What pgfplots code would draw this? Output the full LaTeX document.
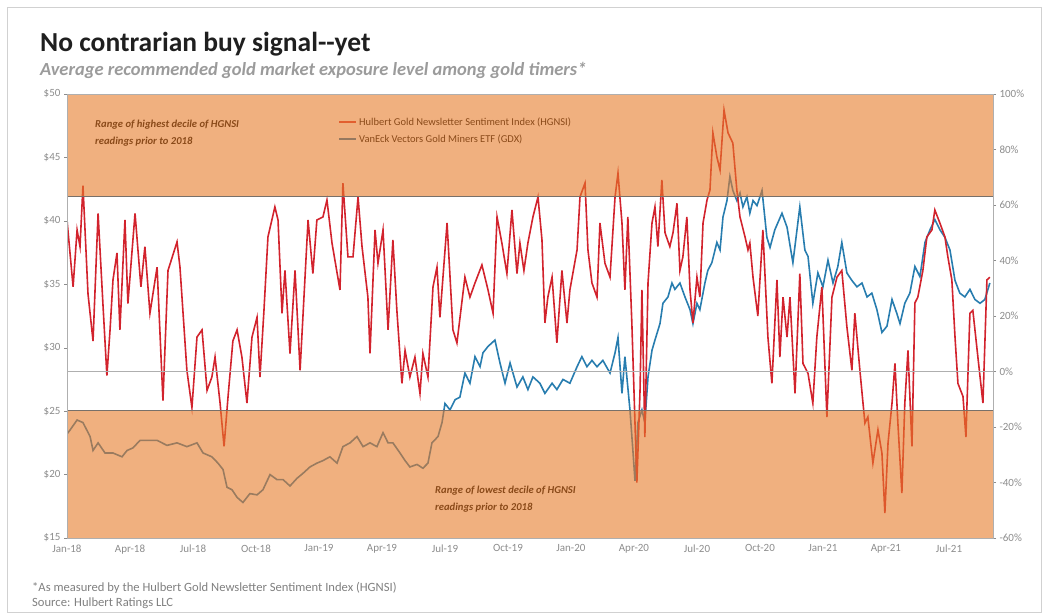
\documentclass[border=0pt]{standalone}
\usepackage{pgfplots}
\pgfplotsset{compat=1.18}
\usepackage{fontspec}
\setmainfont{Carlito}
\definecolor{hred}{RGB}{210,35,45}
\definecolor{gblue}{RGB}{40,125,175}
\definecolor{band}{RGB}{230,123,42}
\definecolor{annot}{RGB}{138,74,25}
\definecolor{edge}{RGB}{120,112,105}
\definecolor{zeroline}{RGB}{175,175,175}
\definecolor{tickc}{RGB}{140,140,140}
\definecolor{legred}{RGB}{226,95,47}
\definecolor{legbrown}{RGB}{150,120,95}
\definecolor{subt}{RGB}{155,155,155}

\pgfplotstableread{
m v
0.00 54.6
0.29 30.5
0.48 51
0.62 45
0.76 67
1.00 28
1.24 11
1.48 57
1.71 24.5
1.90 -1.5
2.05 15
2.19 33
2.38 42.7
2.52 15
2.76 54.6
2.90 24.5
3.24 57
3.52 30.5
3.71 45
3.95 21
4.29 37.6
4.57 -10.5
4.81 36.4
5.24 46.7
5.38 37.6
5.71 0.4
5.95 -13
6.19 12.4
6.43 15
6.67 -6.8
6.90 -2
7.05 5.2
7.29 -11.4
7.48 -27
7.67 -9
7.90 11
8.10 15
8.33 5.2
8.57 -11.4
8.81 12.4
9.05 19.5
9.19 -2
9.38 22
9.57 48.5
9.90 59.3
10.05 54.6
10.24 21
10.38 36.4
10.62 6.5
10.86 36.4
11.10 0.4
11.48 54.6
11.71 35.3
11.90 54.6
12.19 55.7
12.38 61.8
12.62 46.3
13.00 29.4
13.14 67.9
13.38 41.3
13.62 41.3
13.86 62.9
14.05 45
14.33 26.8
14.43 6.5
14.67 51
14.81 39
15.05 51
15.29 15
15.52 47.4
15.71 22
15.95 -4.3
16.10 7.6
16.33 -2
16.57 5.2
16.81 -7.9
16.95 6.5
17.19 -2
17.43 30.5
17.62 37.6
17.76 19.5
18.10 53.5
18.38 15
18.57 10.3
18.95 34
19.19 26.8
19.43 31.9
19.76 38.4
20.05 29.4
20.29 21
20.48 55.7
20.71 46.3
20.95 35.3
21.19 58.2
21.43 35.3
21.57 46.3
21.76 36.4
21.95 46.3
22.19 55.7
22.43 62.9
22.62 47.4
22.76 17.5
22.90 26.8
23.10 34
23.33 10.3
23.57 36.4
23.81 17.5
23.95 29.4
24.29 43.8
24.43 62.9
24.67 67.9
24.81 43.8
25.00 31.9
25.24 26.8
25.38 53.5
25.62 39
25.86 34
26.10 62.9
26.24 71.5
26.43 53.5
26.57 29.4
26.71 55.7
26.90 17.5
27.05 -18.6
27.14 -40
27.29 -6.8
27.38 29.4
27.52 -23.6
27.67 31.9
27.86 53.5
28.00 59.3
28.14 45
28.33 69
28.48 50
28.71 45
28.86 50
29.05 60.6
29.19 36.4
29.33 41.3
29.52 55.7
29.67 29.4
29.81 17.5
30.00 34
30.14 26.8
30.29 53.5
30.48 61.8
30.62 65.4
30.76 86
30.95 77.3
31.10 72.6
31.29 94.2
31.48 86
31.71 82.3
31.90 65.4
32.05 55.7
32.29 48.5
32.43 43.8
32.52 46.3
32.67 34
32.90 20
33.14 51
33.38 12.4
33.57 -4.3
33.81 33
33.95 5.2
34.10 26.8
34.29 12.4
34.43 26.8
34.67 -7.9
34.90 35.3
35.05 2.9
35.29 -0.7
35.52 -11.4
35.71 12.4
35.95 30.5
36.19 -16.4
36.43 26.8
36.67 34
36.90 36.4
37.14 16.2
37.38 0.4
37.52 21
37.76 0.4
38.00 -18.6
38.14 -16.4
38.38 -33
38.62 -21
38.81 -29.4
38.95 -51
39.10 -25.8
39.29 -11.4
39.43 2.9
39.57 -18.6
39.76 -43.8
39.90 -11.4
40.05 7.6
40.24 -27
40.38 24.7
40.52 26.8
40.76 36.4
40.95 48.5
41.19 51
41.33 58.2
41.57 53.5
41.81 48.5
41.95 41.3
42.14 33
42.29 12.4
42.43 -4.3
42.67 -9
42.81 -23.6
43.00 21
43.14 22
43.38 5.2
43.62 -11.4
43.81 33
43.95 34
}\hgnsi

\pgfplotstableread{
m v
0.00 23.2
0.14 23.5
0.48 24.3
0.76 24.1
1.10 23.0
1.24 21.9
1.48 22.5
1.81 21.7
2.19 21.7
2.62 21.4
2.86 21.9
3.14 22.1
3.48 22.7
3.81 22.7
4.29 22.7
4.76 22.3
5.24 22.5
5.71 22.2
6.19 22.5
6.48 21.7
6.90 21.4
7.19 20.9
7.43 20.4
7.62 19.0
7.86 18.8
8.10 18.2
8.38 17.8
8.71 18.5
9.05 18.4
9.33 18.8
9.67 20.0
10.00 19.6
10.29 19.6
10.62 19.1
10.95 19.7
11.24 20.1
11.57 20.6
11.90 20.9
12.19 21.1
12.52 21.4
12.86 20.9
13.14 22.2
13.48 22.5
13.81 23.0
14.10 22.2
14.43 22.5
14.76 22.2
15.05 23.3
15.29 22.5
15.52 22.5
15.86 21.7
16.10 21.1
16.33 20.6
16.67 20.8
16.95 20.5
17.19 20.9
17.38 22.5
17.67 23.0
17.86 24.1
18.00 25.6
18.24 25.1
18.48 25.9
18.71 26.1
18.95 28.0
19.19 27.2
19.43 29.3
19.67 28.5
19.81 29.6
20.05 30.1
20.38 30.6
20.62 28.8
20.86 27.2
21.10 28.8
21.43 26.9
21.71 27.7
21.95 26.7
22.19 27.7
22.52 27.2
22.76 26.4
23.10 27.2
23.33 26.7
23.62 27.5
23.95 27.2
24.29 28.5
24.52 29.3
24.76 28.5
25.00 29.0
25.24 28.5
25.52 29.0
25.86 28.0
26.10 29.6
26.24 30.8
26.43 26.4
26.57 29.3
26.81 25.1
26.95 21.9
27.05 19.5
27.19 24.1
27.38 25.1
27.52 24.1
27.67 27.7
27.86 29.8
28.00 30.6
28.24 31.9
28.38 33.5
28.62 34.0
28.81 35.1
28.95 34.6
29.19 35.1
29.43 34.0
29.67 33.0
29.81 31.9
30.00 33.5
30.14 33.0
30.38 35.1
30.52 36.1
30.71 36.7
30.95 38.3
31.10 37.7
31.24 40.3
31.43 41.6
31.57 43.5
31.71 42.4
31.90 41.6
32.05 42.2
32.19 41.1
32.38 41.9
32.52 40.6
32.67 41.6
32.86 41.2
33.10 42.4
33.33 38.7
33.48 37.9
33.71 39.3
34.05 40.6
34.29 39.5
34.57 36.7
34.90 41.1
35.14 37.7
35.29 37.2
35.52 33.5
35.76 35.9
36.00 34.8
36.24 36.9
36.48 35.1
36.71 36.4
36.90 38.3
37.14 35.9
37.38 35.3
37.62 34.8
37.86 35.1
38.10 34.0
38.33 34.3
38.57 33.0
38.81 31.2
39.05 31.7
39.29 33.8
39.52 32.7
39.67 31.9
39.90 33.5
40.14 34.3
40.38 36.4
40.62 35.6
40.86 38.3
41.10 39.3
41.33 40.1
41.57 39.3
41.81 38.7
42.05 37.7
42.29 35.3
42.52 34.3
42.76 34.0
43.00 34.6
43.24 33.8
43.48 33.5
43.71 33.8
43.95 35.1
}\gdx

\begin{document}
\begin{tikzpicture}
\path[use as bounding box] (0pt,0pt) rectangle (1046pt,615pt);
\draw[black!18, line width=1pt] (7pt,2pt) rectangle (1041pt,607pt);

\node[anchor=base west, inner sep=0pt, font=\fontsize{27.5}{30}\selectfont\bfseries, text=black!88] at (40pt,563pt) {No contrarian buy signal{-}{-}yet};
\node[anchor=base west, inner sep=0pt, font=\fontsize{18.5}{20}\selectfont\bfseries\itshape, text=subt] at (40pt,539pt) {Average recommended gold market exposure level among gold timers*};

\begin{axis}[at={(67pt,77pt)}, anchor=south west, width=926pt, height=444pt, scale only axis,
  xmin=0, xmax=44.1, ymin=15, ymax=50,
  axis x line*=bottom, axis y line*=left,
  axis line style={draw=tickc!70, line width=0.8pt},
  xtick={0,3,...,42},
  xticklabels={Jan-18,Apr-18,Jul-18,Oct-18,Jan-19,Apr-19,Jul-19,Oct-19,Jan-20,Apr-20,Jul-20,Oct-20,Jan-21,Apr-21,Jul-21},
  x tick style={draw=none},
  ytick={15,20,...,50},
  yticklabel={\$\pgfmathprintnumber{\tick}},
  y tick style={draw=tickc}, tick align=outside, major tick length=3pt,
  ticklabel style={font=\fontsize{11}{12}\selectfont, text=tickc},
  /pgf/number format/assume math mode=true]
\addplot[gblue, line width=1.6pt] table[x=m,y=v] {\gdx};
\end{axis}

\begin{axis}[at={(67pt,77pt)}, anchor=south west, width=926pt, height=444pt, scale only axis,
  xmin=0, xmax=44.1, ymin=-60, ymax=100,
  axis on top,
  axis line style={draw=tickc!70, line width=0.8pt},
  xtick=\empty,
  ytick={-60,-40,...,100}, ytick pos=right, yticklabel pos=right,
  yticklabel={\pgfmathprintnumber{\tick}\%},
  y tick style={draw=tickc}, tick align=outside, major tick length=3pt,
  ticklabel style={font=\fontsize{11}{12}\selectfont, text=tickc},
  /pgf/number format/assume math mode=true,
  legend style={at={(0.293,0.952)}, anchor=north west, draw=none, fill=none,
    font=\fontsize{10.5}{12}\selectfont, text=annot, row sep=4pt, inner sep=0pt},
  legend cell align=left]
\addplot[hred, line width=1.6pt, forget plot] table[x=m,y=v] {\hgnsi};
\fill[band, fill opacity=0.6] (axis cs:0,63) rectangle (axis cs:44.1,100);
\fill[band, fill opacity=0.6] (axis cs:0,-60) rectangle (axis cs:44.1,-14);
\draw[zeroline, line width=1.3pt] (axis cs:0,0) -- (axis cs:44.1,0);
\draw[edge, line width=1.3pt] (axis cs:0,63) -- (axis cs:44.1,63);
\draw[edge, line width=1.3pt] (axis cs:0,-14) -- (axis cs:44.1,-14);
\addlegendimage{legred, line width=1.6pt}
\addlegendentry{Hulbert Gold Newsletter Sentiment Index (HGNSI)}
\addlegendimage{legbrown, line width=1.6pt}
\addlegendentry{VanEck Vectors Gold Miners ETF (GDX)}
\end{axis}

\node[anchor=north west, inner sep=0pt, align=left, font=\fontsize{10.6}{16.5}\selectfont\bfseries\itshape, text=annot] at (95pt,495pt) {Range of highest decile of HGNSI\\readings prior to 2018};
\node[anchor=north west, inner sep=0pt, align=left, font=\fontsize{10.6}{16.5}\selectfont\bfseries\itshape, text=annot] at (435pt,129pt) {Range of lowest decile of HGNSI\\readings prior to 2018};

\node[anchor=base west, inner sep=0pt, font=\fontsize{12.6}{13}\selectfont, text=black!50] at (32pt,23pt) {*As measured by the Hulbert Gold Newsletter Sentiment Index (HGNSI)};
\node[anchor=base west, inner sep=0pt, font=\fontsize{12.6}{13}\selectfont, text=black!50] at (32pt,8pt) {Source: Hulbert Ratings LLC};
\end{tikzpicture}
\end{document}
